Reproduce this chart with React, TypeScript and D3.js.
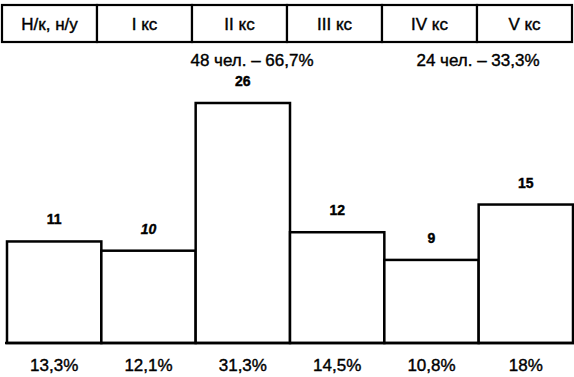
import React from "react";
import * as d3 from "d3";

const headers = ["Н/к, н/у", "I кс", "II кс", "III кс", "IV кс", "V кс"];
const values = [11, 10, 26, 12, 9, 15];
const percents = ["13,3%", "12,1%", "31,3%", "14,5%", "10,8%", "18%"];
const italicIdx = [1];
const groupLabels = ["48 чел. – 66,7%", "24 чел. – 33,3%"];

const W = 574;
const H = 377;
const FONT = "'Liberation Sans', Arial, sans-serif";

export default function App() {
  const xHead = d3.scaleBand<string>().domain(headers).range([2, 572]).padding(0);
  const x = d3.scaleBand<string>().domain(headers).range([7, 573]).padding(0);
  const y = d3.scaleLinear().domain([0, 26]).range([343, 103]);

  const textStroke = { stroke: "#000", strokeWidth: 0.4 };

  return (
    <svg
      width={W}
      height={H}
      style={{ position: "absolute", left: 0, top: 0, background: "#fff" }}
    >
      {/* header boxes */}
      {headers.map((h) => (
        <g key={"h" + h}>
          <rect
            x={xHead(h)}
            y={5}
            width={xHead.bandwidth()}
            height={37}
            fill="#fff"
            stroke="#000"
            strokeWidth={2.2}
          />
          <text
            x={(xHead(h) as number) + xHead.bandwidth() / 2}
            y={29.5}
            textAnchor="middle"
            fontFamily={FONT}
            fontSize={17}
            fill="#000"
            {...textStroke}
          >
            {h}
          </text>
        </g>
      ))}
      <text x={252} y={66} textAnchor="middle" fontFamily={FONT} fontSize={17} fill="#000" {...textStroke}>
        {groupLabels[0]}
      </text>
      <text x={478} y={66} textAnchor="middle" fontFamily={FONT} fontSize={17} fill="#000" {...textStroke}>
        {groupLabels[1]}
      </text>

      {/* bars */}
      {headers.map((h, i) => {
        const x0 = x(h) as number;
        const bw = x.bandwidth();
        return (
          <g key={"b" + h}>
            <rect
              x={x0}
              y={y(values[i])}
              width={bw}
              height={y(0) - y(values[i])}
              fill="#fff"
              stroke="#000"
              strokeWidth={2.5}
            />
            <text
              x={x0 + bw / 2}
              y={y(values[i]) - 17}
              textAnchor="middle"
              fontFamily={FONT}
              fontSize={14}
              fontWeight="bold"
              fontStyle={italicIdx.includes(i) ? "italic" : "normal"}
              fill="#000"
              {...textStroke}
            >
              {values[i]}
            </text>
            <text
              x={x0 + bw / 2}
              y={371}
              textAnchor="middle"
              fontFamily={FONT}
              fontSize={17}
              fill="#000"
              {...textStroke}
            >
              {percents[i]}
            </text>
          </g>
        );
      })}
      <line x1={5} x2={574} y1={y(0)} y2={y(0)} stroke="#000" strokeWidth={2.5} />
    </svg>
  );
}
